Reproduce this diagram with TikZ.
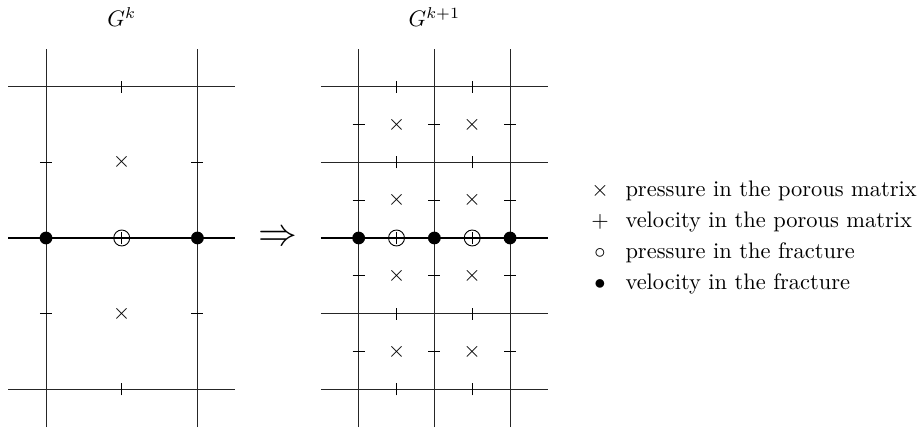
\documentclass[tikz,border=0pt]{standalone}
\usepackage{amsmath}
\usepackage{tikz}
\usetikzlibrary{positioning}
\tikzset{
  gridline/.style={thin, black!85},
  fracture/.style={thick, black},
  vtick/.style={thin, black},
  veldot/.style={circle, fill=black, inner sep=0pt, minimum size=2.0mm},
  presring/.style={circle, draw, thin, inner sep=0pt, minimum size=2.5mm},
  crossmark/.style={inner sep=0pt},
  legsym/.style={inner sep=0pt, anchor=base},
  legtxt/.style={inner sep=0pt, anchor=base west},
}

\begin{document}
\begin{tikzpicture}[x=1.185cm, y=1.185cm]
    \useasboundingbox (-0.608,-2.497) rectangle (11.519,3.144);
    % coarse grid G^k
    \foreach \x in {0,2}
      \draw[gridline] (\x,-2.5) -- (\x,2.5);
    \foreach \y in {-2,2}
      \draw[gridline] (-0.5,\y) -- (2.5,\y);
    \draw[fracture] (-0.5,0) -- (2.5,0);
    \foreach \y in {-2,2}
      \draw[vtick] (1,\y-0.08) -- (1,\y+0.08);
    \foreach \x in {0,2}
      \foreach \y in {-1,1}
        \draw[vtick] (\x-0.08,\y) -- (\x+0.08,\y);
    \foreach \y [count=\i] in {-1,1}
      \node[crossmark] (lc\i) at (1,\y) {$\times$};
    \node[presring] (lp1) at (1,0) {};
    \draw[vtick] (1,-0.08) -- (1,0.08);
    \node[veldot] (lv1) at (0,0) {};
    \node[veldot] (lv2) at (2,0) {};
    \node (gk) at (1,2.92) {$G^k$};

    \node (refine) at (3.065,0) {\LARGE$\Rightarrow$};

    % refined grid G^{k+1}
    \begin{scope}[shift={(4.13,0)}]
      \foreach \x in {0,1,2}
        \draw[gridline] (\x,-2.5) -- (\x,2.5);
      \foreach \y in {-2,-1,1,2}
        \draw[gridline] (-0.5,\y) -- (2.5,\y);
      \draw[fracture] (-0.5,0) -- (2.5,0);
      \foreach \x in {0.5,1.5}
        \foreach \y in {-2,-1,1,2}
          \draw[vtick] (\x,\y-0.08) -- (\x,\y+0.08);
      \foreach \x in {0,1,2}
        \foreach \y in {-1.5,-0.5,0.5,1.5}
          \draw[vtick] (\x-0.08,\y) -- (\x+0.08,\y);
      \foreach \x/\y [count=\i] in {0.5/1.5,1.5/1.5,0.5/0.5,1.5/0.5,0.5/-0.5,1.5/-0.5,0.5/-1.5,1.5/-1.5}
        \node[crossmark] (rc\i) at (\x,\y) {$\times$};
      \foreach \x [count=\i] in {0.5,1.5}
        { \node[presring] (rp\i) at (\x,0) {};
          \draw[vtick] (\x,-0.08) -- (\x,0.08); }
      \foreach \x [count=\i] in {0,1,2}
        \node[veldot] (rv\i) at (\x,0) {};
      \node (gk1) at (1,2.92) {$G^{k+1}$};
    \end{scope}

    % legend
    \foreach \y/\s/\t [count=\i] in {0.545/\times/pressure in the porous matrix,
                                     0.135/+/velocity in the porous matrix,
                                     -0.275/\circ/pressure in the fracture,
                                     -0.685/\bullet/velocity in the fracture}
      { \node[legsym] (sym\i) at (7.318,\y) {$\s$};
        \node[legtxt] (txt\i) at (7.649,\y) {\t}; }
  \end{tikzpicture}
\end{document}
